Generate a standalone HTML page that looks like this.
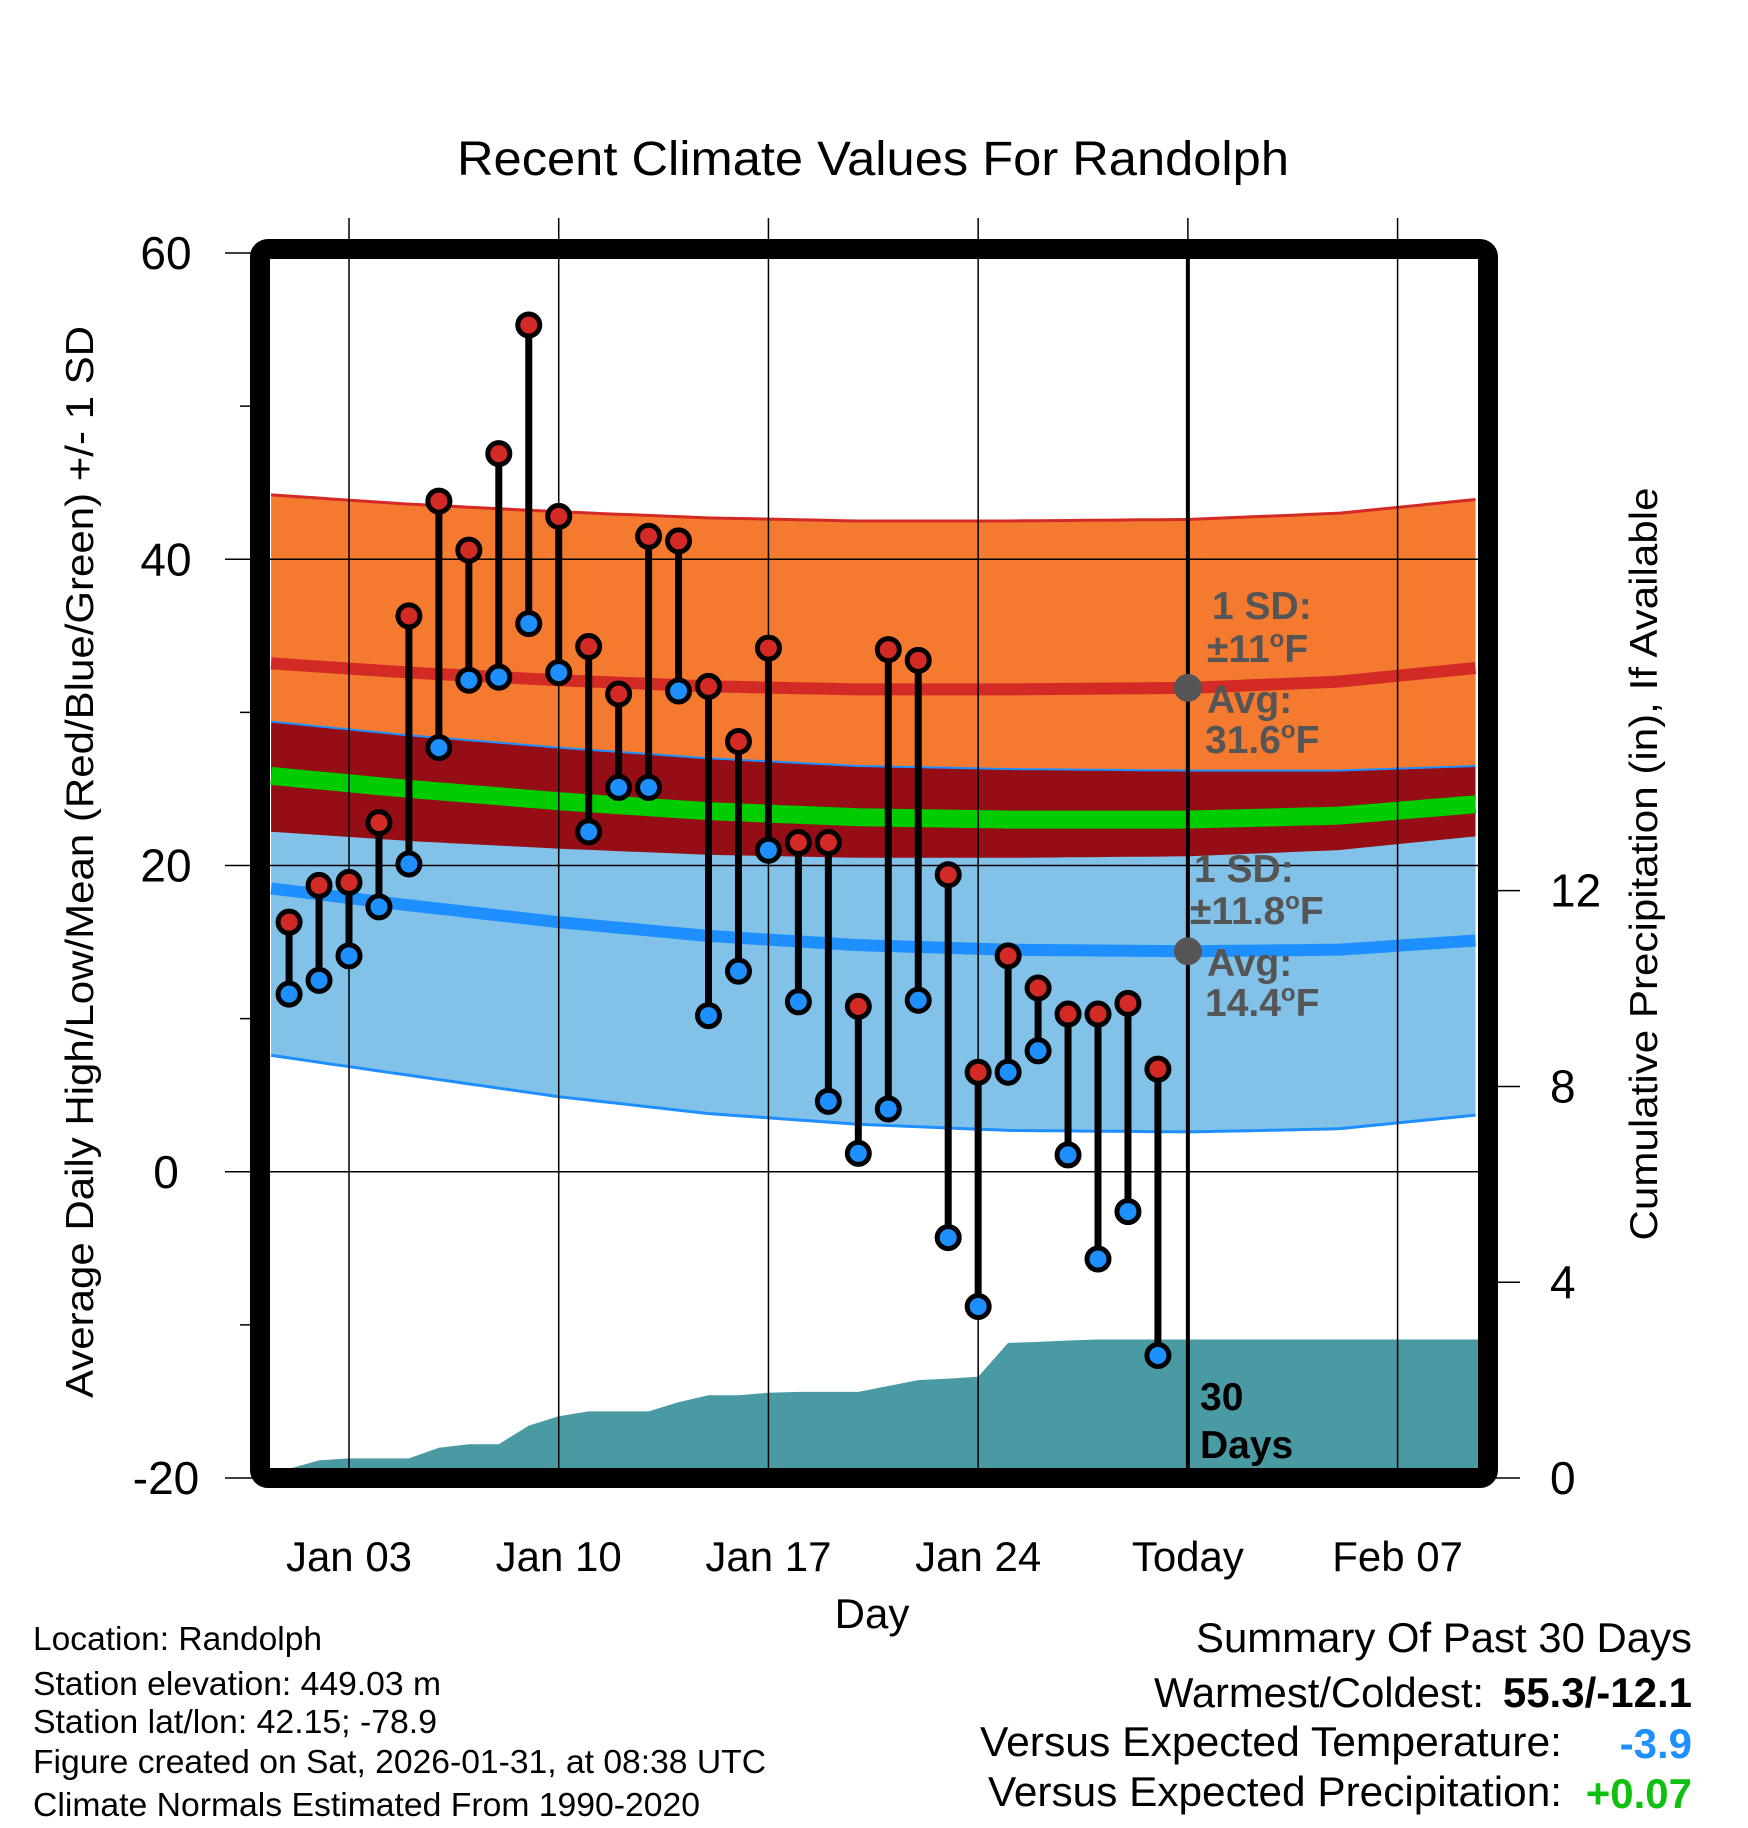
<!DOCTYPE html>
<html><head><meta charset="utf-8"><style>
html,body{margin:0;padding:0;background:#fff;}
svg{display:block;font-family:"Liberation Sans",sans-serif;}
</style></head><body>
<svg id="chart" width="1748" height="1828" viewBox="0 0 1748 1828" xmlns="http://www.w3.org/2000/svg">
<g id="plot"></g>
<text x="873" y="175" font-size="48" text-anchor="middle" textLength="832" lengthAdjust="spacingAndGlyphs">Recent Climate Values For Randolph</text>
<text transform="translate(93,862) rotate(-90)" font-size="39" text-anchor="middle" textLength="1072" lengthAdjust="spacingAndGlyphs">Average Daily High/Low/Mean (Red/Blue/Green) +/- 1 SD</text>
<text transform="translate(1657,864) rotate(-90)" font-size="39" text-anchor="middle" textLength="753" lengthAdjust="spacingAndGlyphs">Cumulative Precipitation (in), If Available</text>
<text x="872" y="1628" font-size="42" text-anchor="middle">Day</text>
<g font-size="33">
<text x="33" y="1650" textLength="289" lengthAdjust="spacingAndGlyphs">Location: Randolph</text>
<text x="33" y="1695" textLength="408" lengthAdjust="spacingAndGlyphs">Station elevation: 449.03 m</text>
<text x="33" y="1733" textLength="404" lengthAdjust="spacingAndGlyphs">Station lat/lon: 42.15; -78.9</text>
<text x="33" y="1773" textLength="733" lengthAdjust="spacingAndGlyphs">Figure created on Sat, 2026-01-31, at 08:38 UTC</text>
<text x="33" y="1816" textLength="667" lengthAdjust="spacingAndGlyphs">Climate Normals Estimated From 1990-2020</text>
</g>
<g font-size="42" text-anchor="end">
<text x="1692" y="1652" textLength="496" lengthAdjust="spacingAndGlyphs">Summary Of Past 30 Days</text>
<text x="1484" y="1707" textLength="330" lengthAdjust="spacingAndGlyphs">Warmest/Coldest:</text>
<text x="1692" y="1707" font-weight="bold">55.3/-12.1</text>
<text x="1562" y="1756" textLength="582" lengthAdjust="spacingAndGlyphs">Versus Expected Temperature:</text>
<text x="1692" y="1758" font-weight="bold" fill="#1e8fff">-3.9</text>
<text x="1562" y="1806" textLength="574" lengthAdjust="spacingAndGlyphs">Versus Expected Precipitation:</text>
<text x="1692" y="1808" font-weight="bold" fill="#10c010">+0.07</text>
</g>
</svg>
<script>
const days=[1,2,3,4,5,6,7,8,9,10,11,12,13,14,15,16,17,18,19,20,21,22,23,24,25,26,27,28,29,30];
const highs=[16.3,18.7,18.9,22.8,36.3,43.8,40.6,46.9,55.3,42.8,34.3,31.2,41.5,41.2,31.7,28.1,34.2,21.5,21.5,10.8,34.1,33.4,19.4,6.5,14.1,12.0,10.3,10.3,11.0,6.7];
const lows=[11.6,12.5,14.1,17.3,20.1,27.7,32.1,32.3,35.8,32.6,22.2,25.1,25.1,31.4,10.2,13.1,21.0,11.1,4.6,1.2,4.1,11.2,-4.3,-8.8,6.5,7.9,1.1,-5.7,-2.6,-12.0];
const precip=[0.19,0.36,0.40,0.40,0.40,0.62,0.69,0.69,1.07,1.26,1.36,1.36,1.36,1.55,1.69,1.69,1.74,1.76,1.76,1.76,1.88,2.0,2.03,2.07,2.76,2.78,2.81,2.83,2.83,2.83];
const normDays=[0.4,5,10,15,20,25,31,36,40.6];
const normHigh=[33.2,32.6,32.1,31.7,31.5,31.5,31.6,32.0,32.9];
const normHighSD=[11,11,11,11,11,11,11,11,11];
const normLow=[18.5,17.4,16.3,15.4,14.8,14.5,14.4,14.5,15.1];
const normLowSD=[10.9,11.1,11.4,11.6,11.7,11.8,11.8,11.7,11.4];
const xTickDays=[3,10,17,24,31,38];
const xTickLabels=["Jan 03","Jan 10","Jan 17","Jan 24","Today","Feb 07"];
const yTicks=[-20,0,20,40,60];
const yMinor=[-10,10,30,50];
const pTicks=[0,4,8,12];

const NS="http://www.w3.org/2000/svg";
const X=d=>349+(d-3)*29.96;
const Y=t=>1478-(t+20)*15.3125;
const YP=p=>1478-p*42.0*1.16533;
const L=270,R=1478,T=259,B=1468;
const plot=document.getElementById('plot');
function mk(tag,attrs,parent){const e=document.createElementNS(NS,tag);for(const k in attrs)e.setAttribute(k,attrs[k]);(parent||plot).appendChild(e);return e;}
function interp(arr,d){for(let i=0;i<normDays.length-1;i++){if(d<=normDays[i+1]){const f=(d-normDays[i])/(normDays[i+1]-normDays[i]);return arr[i]+f*(arr[i+1]-arr[i]);}}return arr[arr.length-1];}
const steps=[];for(let i=0;i<=80;i++)steps.push(normDays[0]+(normDays[normDays.length-1]-normDays[0])*i/80);
const fn={
 hh:d=>interp(normHigh,d)+interp(normHighSD,d),
 hl:d=>interp(normHigh,d)-interp(normHighSD,d),
 hm:d=>interp(normHigh,d),
 lh:d=>interp(normLow,d)+interp(normLowSD,d),
 ll:d=>interp(normLow,d)-interp(normLowSD,d),
 lm:d=>interp(normLow,d),
 mm:d=>(interp(normHigh,d)+interp(normLow,d))/2
};
function cx(d){return Math.max(L,Math.min(R,X(d)));}
function band(top,bot,fill,name){
 let p=steps.map((d,i)=>(i?'L':'M')+cx(d).toFixed(1)+','+Y(top(d)).toFixed(1)).join('');
 p+=steps.slice().reverse().map(d=>'L'+cx(d).toFixed(1)+','+Y(bot(d)).toFixed(1)).join('')+'Z';
 const e=mk('path',{d:p,fill:fill});
 
 
}
function line(f,stroke,w,name){
 const p=steps.map((d,i)=>(i?'L':'M')+cx(d).toFixed(1)+','+Y(f(d)).toFixed(1)).join('');
 const e=mk('path',{d:p,fill:'none',stroke:stroke,'stroke-width':w});
 
 
}
band(fn.hh,fn.hl,'#f47a30','high-sd-band');
band(fn.lh,fn.ll,'#82c1e8','low-sd-band');
band(fn.lh,fn.hl,'#950e16','overlap-band');
line(fn.hh,'#d42a25',3,'high-sd-upper');
line(fn.lh,'#1e8fff',2,'low-sd-upper');
line(fn.ll,'#1e8fff',3,'low-sd-lower');
line(fn.hm,'#d42a25',12,'normal-high-line');
line(fn.lm,'#1e8fff',12,'normal-low-line');
line(fn.mm,'#00cc00',18,'normal-mean-line');
{let p='M'+L+','+B+' L'+L+','+YP(0).toFixed(1);
 days.forEach((d,i)=>{p+=' L'+X(d).toFixed(1)+','+YP(precip[i]).toFixed(1);});
 p+=' L'+R+','+YP(precip[precip.length-1]).toFixed(1)+' L'+R+','+B+'Z';
 const e=mk('path',{d:p,fill:'#4a9aa4'});
 
 }
xTickDays.forEach((d,i)=>{
 const g=mk('line',{x1:X(d),x2:X(d),y1:218,y2:1478,stroke:'#000','stroke-width':1.5});
 
 
 const t=mk('text',{x:X(d),y:1571,'font-size':42,'text-anchor':'middle'});
 t.textContent=xTickLabels[i];
 
 
});
yTicks.forEach(v=>{
 const g=mk('line',{x1:225,x2:R,y1:Y(v),y2:Y(v),stroke:'#000','stroke-width':1.5});
 
 
 const t=mk('text',{x:166,y:Y(v)+16,'font-size':46,'text-anchor':'middle'});
 t.textContent=v;
 
 
});
yMinor.forEach(v=>{
 const g=mk('line',{x1:240,x2:252,y1:Y(v),y2:Y(v),stroke:'#000','stroke-width':1.5});
 
 
});
pTicks.forEach(v=>{
 const g=mk('line',{x1:1490,x2:1520,y1:YP(v),y2:YP(v),stroke:'#000','stroke-width':1.5});
 
 
 const t=mk('text',{x:1550,y:YP(v)+16,'font-size':46});
 t.textContent=v;
 
 
});
{const e=mk('line',{x1:X(31),x2:X(31),y1:T,y2:B,stroke:'#000','stroke-width':4});
 
 }
days.forEach((d,i)=>{
 const s=mk('line',{x1:X(d),x2:X(d),y1:Y(highs[i]),y2:Y(lows[i]),stroke:'#000','stroke-width':7});
 
 
});
days.forEach((d,i)=>{
 const h=mk('circle',{cx:X(d),cy:Y(highs[i]),r:11,fill:'#d42a25',stroke:'#000','stroke-width':5});
 
 
 const l=mk('circle',{cx:X(d),cy:Y(lows[i]),r:11,fill:'#1e8fff',stroke:'#000','stroke-width':5});
 
 
});
[[normHigh[6],'high'],[normLow[6],'low']].forEach(a=>{
 const c=mk('circle',{cx:X(31),cy:Y(a[0]),r:14,fill:'#555'});
 
 
});
function ann(txt,x,y,fill,name){const t=mk('text',{x:x,y:y,'font-size':39,'font-weight':'bold',fill:fill});t.innerHTML=txt;
 
 }
const deg='<tspan font-size="24" dy="-15">o</tspan><tspan dy="15">F</tspan>';
ann('1 SD:',1212,619,'#555','high-sd-label');
ann('±11'+deg,1207,662,'#555','high-avg-sd-value');
ann('Avg:',1207,713,'#555','high-avg-label');
ann(normHigh[6].toFixed(1)+deg,1205,753,'#555','high-avg-value');
ann('1 SD:',1194,882,'#555','low-sd-label');
ann('±11.8'+deg,1190,924,'#555','low-sd-value');
ann('Avg:',1207,976,'#555','low-avg-label');
ann(normLow[6].toFixed(1)+deg,1205,1016,'#555','low-avg-value');
ann('30',1200,1410,'#000','days-count');
ann('Days',1200,1458,'#000','days-label');
{const f=mk('rect',{x:260,y:249,width:1228,height:1229,rx:8,fill:'none',stroke:'#000','stroke-width':20});
 
 }
</script>
</body></html>
